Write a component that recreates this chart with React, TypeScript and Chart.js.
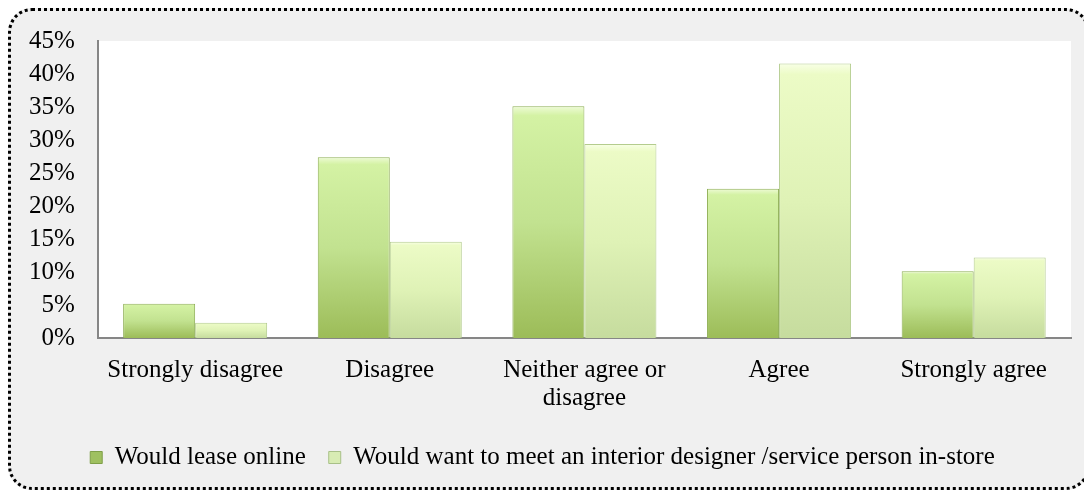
import React, { useEffect, useRef } from "react";
import { Chart, registerables } from "chart.js";

Chart.register(...registerables);

const categories: (string | string[])[] = [
  "Strongly disagree",
  "Disagree",
  ["Neither agree or", "disagree"],
  "Agree",
  "Strongly agree",
];
const leaseOnline = [0.052, 0.274, 0.351, 0.226, 0.101];
const meetInStore = [0.023, 0.146, 0.294, 0.416, 0.122];
const seriesNames = [
  "Would lease online",
  "Would want to meet an interior designer /service person in-store",
];

const FONT = "'Liberation Serif', 'Times New Roman', serif";

function barGradient(stops: [number, string][]) {
  return (ctx: any) => {
    const chart = ctx.chart;
    const y = chart.scales?.y;
    if (!y || ctx.type !== "data") return stops[stops.length - 1][1];
    const v = ctx.parsed?.y ?? 0;
    const top = y.getPixelForValue(v);
    const base = y.getPixelForValue(0);
    if (!isFinite(top) || !isFinite(base) || base - top < 1) return stops[2][1];
    const g = chart.ctx.createLinearGradient(0, top, 0, base);
    stops.forEach(([o, c]) => g.addColorStop(o, c));
    return g;
  };
}

export default function App() {
  const ref = useRef<HTMLCanvasElement>(null);
  useEffect(() => {
    if (!ref.current) return;
    const chart = new Chart(ref.current, {
      type: "bar",
      data: {
        labels: categories,
        datasets: [
          {
            label: seriesNames[0],
            data: leaseOnline,
            backgroundColor: barGradient([
              [0, "#eefbd6"],
              [0.04, "#d4f2a4"],
              [0.5, "#c2e290"],
              [1, "#9cbc58"],
            ]),
            borderColor: "#8faf55",
            borderWidth: 1,
            categoryPercentage: 0.74,
            barPercentage: 1,
          },
          {
            label: seriesNames[1],
            data: meetInStore,
            backgroundColor: barGradient([
              [0, "#f8ffe6"],
              [0.04, "#ecfbc6"],
              [0.5, "#dff2b6"],
              [1, "#c6dc9e"],
            ]),
            borderColor: "#b4cc8e",
            borderWidth: 1,
            categoryPercentage: 0.74,
            barPercentage: 1,
          },
        ],
      },
      options: {
        responsive: false,
        animation: false,
        maintainAspectRatio: false,
        layout: { padding: { left: 3, right: 16, top: 9, bottom: 7 } },
        plugins: {
          tooltip: { enabled: false },
          legend: {
            position: "bottom",
            labels: {
              color: "#000",
              font: { family: FONT, size: 25 },
              boxWidth: 12,
              boxHeight: 12,
              padding: 23,
              generateLabels: (c: any) =>
                c.data.datasets.map((d: any, i: number) => ({
                  text: d.label,
                  fillStyle: i === 0 ? "#9fc060" : "#d8ecb4",
                  strokeStyle: i === 0 ? "#7f9f48" : "#a8c088",
                  lineWidth: 1,
                  hidden: false,
                  datasetIndex: i,
                })),
            },
          },
        },
        scales: {
          x: {
            grid: { display: false },
            border: { display: true, color: "#868686", width: 2 },
            ticks: {
              color: "#000",
              font: { family: FONT, size: 25, lineHeight: 1.12 },
              padding: 10,
              maxRotation: 0,
              autoSkip: false,
            },
          },
          y: {
            min: 0,
            max: 0.45,
            grid: { display: false },
            border: { display: true, color: "#868686", width: 2 },
            ticks: {
              stepSize: 0.05,
              autoSkip: false,
              color: "#000",
              font: { family: FONT, size: 25 },
              padding: 15,
              callback: (v: any) => Math.round(Number(v) * 100) + "%",
            },
          },
        },
      },
      plugins: [
        {
          id: "plotBg",
          beforeDraw(c: any) {
            const a = c.chartArea;
            c.ctx.save();
            c.ctx.fillStyle = "#ffffff";
            c.ctx.fillRect(a.left, a.top, a.right - a.left, a.bottom - a.top);
            c.ctx.restore();
          },
        },
      ],
    });
    return () => chart.destroy();
  }, []);

  return (
    <div
      style={{
        width: 1082,
        height: 482,
        boxSizing: "border-box",
        border: "3px dotted #000",
        borderRadius: 24,
        background: "#f0f0f0",
        overflow: "hidden",
      }}
    >
      <canvas ref={ref} width={1076} height={476} style={{ display: "block" }} />
    </div>
  );
}
